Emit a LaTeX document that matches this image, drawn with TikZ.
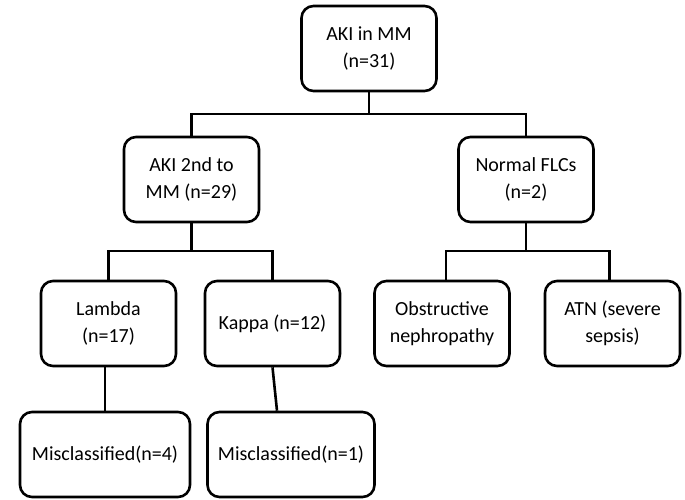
\documentclass[tikz,border=0pt]{standalone}
\usepackage{fontspec}
\setmainfont{Carlito}
\usetikzlibrary{positioning}

\begin{document}
\begin{tikzpicture}[x=1pt,y=-1pt,line width=2.6pt,
        box/.style={draw,rounded corners=12pt,minimum width=135pt,minimum height=85pt,
                    align=center,font=\fontsize{20}{27}\selectfont,inner sep=2pt},
        wide/.style={box,minimum width=170pt}]
        \useasboundingbox (0,0) rectangle (685,499);
        \node[box] at (369,48.5) (top) {AKI in MM\\(n=31)};
        \node[box] at (191.5,179.5) (aki) {AKI 2nd to\\MM (n=29)};
        \node[box] at (526,179.5) (flc) {Normal FLCs\\(n=2)};
        \node[box] at (108.5,323.5) (lambda) {Lambda\\(n=17)};
        \node[box] at (272.5,323.5) (kappa) {Kappa (n=12)};
        \node[box] at (442,323.5) (obst) {Obstructive\\nephropathy};
        \node[box] at (612.5,323.5) (atn) {ATN (severe\\sepsis)};
        \node[wide] at (105,454.5) (misl) {Misclassified(n=4)};
        \node[wide,minimum width=167pt] at (291,454.5) (misk) {Misclassified(n=1)};

        \coordinate (j1) at (369,114);
        \coordinate (j2) at (191.5,251);
        \coordinate (j3) at (526,251);
        \draw (top.south) -- (j1);
        \draw (aki.north) |- (j1) -| (flc.north);
        \draw (aki.south) -- (j2);
        \draw (lambda.north) |- (j2) -| (kappa.north);
        \draw (flc.south) -- (j3);
        \draw ([xshift=4pt]obst.north) |- (j3) -| ([xshift=-3pt]atn.north);
        \draw (lambda.south -| misl.north) -- (misl.north);
        \draw (kappa.south) -- ([xshift=-14pt]misk.north);
    \end{tikzpicture}
\end{document}
